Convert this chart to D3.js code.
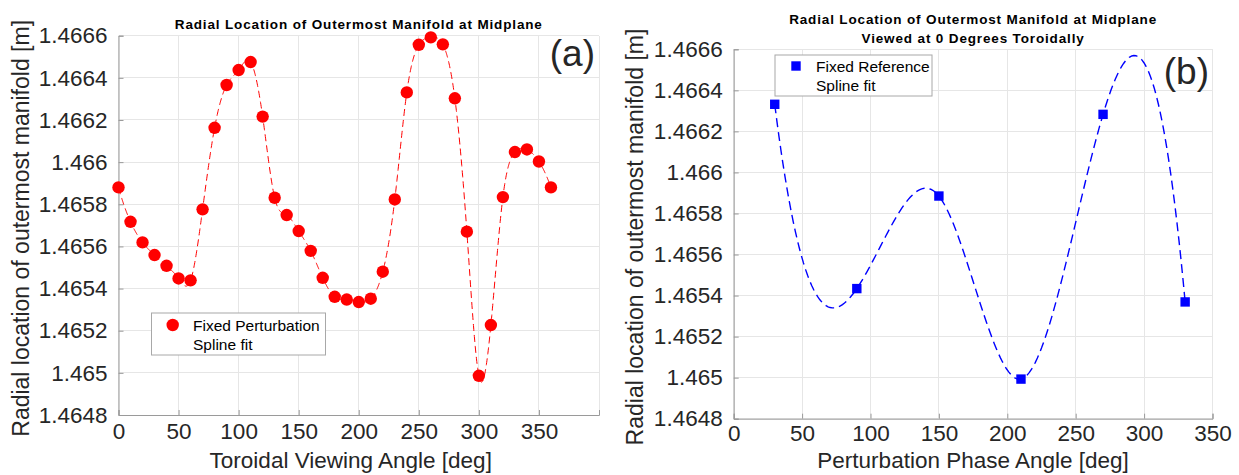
<!DOCTYPE html>
<html>
<head>
<meta charset="utf-8">
<script src="https://cdn.jsdelivr.net/npm/d3@7"></script>
<style>
  html, body { margin: 0; padding: 0; background: #fff; }
  svg { display: block; font-family: "Liberation Sans", Arial, Helvetica, sans-serif; }
</style>
</head>
<body>
<svg id="chart" width="1239" height="475"></svg>
<script>
// ---------- DATA ----------
const angleA = [0,10,20,30,40,50,60,70,80,90,100,110,120,130,140,150,160,170,180,190,200,210,220,230,240,250,260,270,280,290,300,310,320,330,340,350,360];
const radiusA = [1.46588,1.465717,1.465619,1.465559,1.465508,1.465448,1.465439,1.465776,1.466163,1.466366,1.466437,1.466475,1.466216,1.465831,1.465749,1.465673,1.465579,1.465451,1.465361,1.465348,1.465336,1.465352,1.46548,1.465823,1.466331,1.466557,1.466592,1.466559,1.466303,1.46567,1.464986,1.465227,1.465834,1.466048,1.46606,1.466003,1.46588];

const phaseB = [30, 90, 150, 210, 270, 330];
const radiusB = [1.466332, 1.465434, 1.465885, 1.464993, 1.466283, 1.465369];

const yTicks = [1.4648,1.465,1.4652,1.4654,1.4656,1.4658,1.466,1.4662,1.4664,1.4666];
const xTicksA = [0,50,100,150,200,250,300,350,400];
const xTickLabelsA = ["0","50","100","150","200","250","300","350",""];
const xTicksB = [0,50,100,150,200,250,300,350];

const titleA = ["Radial Location of Outermost Manifold at Midplane"];
const titleB = ["Radial Location of Outermost Manifold at Midplane", "Viewed at 0 Degrees Toroidally"];
const xLabelA = "Toroidal Viewing Angle [deg]";
const xLabelB = "Perturbation Phase Angle [deg]";
const yLabel = "Radial location of outermost manifold [m]";
const legendA = ["Fixed Perturbation", "Spline fit"];
const legendB = ["Fixed Reference", "Spline fit"];

// ---------- not-a-knot cubic spline (as MATLAB spline) ----------
function spline(xs, ys) {
  const n = xs.length;
  const y0 = ys[0];
  const yy = ys.map(v => v - y0);
  const h = [];
  for (let i = 0; i < n - 1; i++) h.push(xs[i + 1] - xs[i]);
  const A = Array.from({length: n}, () => new Array(n).fill(0));
  const b = new Array(n).fill(0);
  A[0][0] = -h[1]; A[0][1] = h[0] + h[1]; A[0][2] = -h[0];
  for (let i = 1; i < n - 1; i++) {
    A[i][i - 1] = h[i - 1];
    A[i][i] = 2 * (h[i - 1] + h[i]);
    A[i][i + 1] = h[i];
    b[i] = 6 * ((yy[i + 1] - yy[i]) / h[i] - (yy[i] - yy[i - 1]) / h[i - 1]);
  }
  A[n - 1][n - 3] = -h[n - 2]; A[n - 1][n - 2] = h[n - 3] + h[n - 2]; A[n - 1][n - 1] = -h[n - 3];
  for (let c = 0; c < n; c++) {
    let p = c;
    for (let r = c + 1; r < n; r++) if (Math.abs(A[r][c]) > Math.abs(A[p][c])) p = r;
    [A[c], A[p]] = [A[p], A[c]]; [b[c], b[p]] = [b[p], b[c]];
    for (let r = c + 1; r < n; r++) {
      const f = A[r][c] / A[c][c];
      if (f === 0) continue;
      for (let k = c; k < n; k++) A[r][k] -= f * A[c][k];
      b[r] -= f * b[c];
    }
  }
  const M = new Array(n).fill(0);
  for (let r = n - 1; r >= 0; r--) {
    let s = b[r];
    for (let k = r + 1; k < n; k++) s -= A[r][k] * M[k];
    M[r] = s / A[r][r];
  }
  const pts = [];
  for (let i = 0; i < n - 1; i++) {
    const steps = 40;
    for (let s = 0; s < steps; s++) {
      const x = xs[i] + h[i] * s / steps;
      const a = xs[i + 1] - x, bb = x - xs[i], hi = h[i];
      const v = M[i] * a * a * a / (6 * hi) + M[i + 1] * bb * bb * bb / (6 * hi)
        + (yy[i] / hi - M[i] * hi / 6) * a + (yy[i + 1] / hi - M[i + 1] * hi / 6) * bb;
      pts.push([x, v + y0]);
    }
  }
  pts.push([xs[n - 1], ys[n - 1]]);
  return pts;
}

const svg = d3.select("#chart");
svg.append("rect").attr("width", 1239).attr("height", 475).attr("fill", "#fff");

const TXT = "#262626", AX = "#9a9a9a", GRID = "#e6e6e6";

function panel(cfg) {
  const g = svg.append("g");
  const x = d3.scaleLinear().domain(cfg.xDomain).range(cfg.xRange);
  const y = d3.scaleLinear().domain([1.4648, 1.4666]).range(cfg.yRange);
  const [x0, x1] = cfg.xRange, [yb, yt] = cfg.yRange;

  // grid
  g.append("g").selectAll("line").data(cfg.xTicks).join("line")
    .attr("x1", d => x(d)).attr("x2", d => x(d)).attr("y1", yb).attr("y2", yt)
    .attr("stroke", GRID).attr("stroke-width", 1).attr("shape-rendering", "crispEdges");
  g.append("g").selectAll("line").data(yTicks).join("line")
    .attr("x1", x0).attr("x2", x1).attr("y1", d => y(d)).attr("y2", d => y(d))
    .attr("stroke", GRID).attr("stroke-width", 1).attr("shape-rendering", "crispEdges");

  // axes (MATLAB style: inward ticks)
  const fmt = v => String(+v.toFixed(4));
  const xAxis = d3.axisBottom(x).tickValues(cfg.xTicks).tickSize(-5).tickPadding(cfg.xPad)
    .tickFormat((d, i) => cfg.xLabels[i]);
  const gx = g.append("g").attr("transform", `translate(0,${yb})`).call(xAxis);
  const yAxis = d3.axisLeft(y).tickValues(yTicks).tickSize(-5).tickPadding(11).tickFormat(fmt);
  const gy = g.append("g").attr("transform", `translate(${x0},0)`).call(yAxis);
  [gx, gy].forEach(a => {
    a.select(".domain").attr("stroke", AX);
    a.selectAll(".tick line").attr("stroke", AX);
    a.selectAll(".tick text").attr("fill", TXT).style("font-size", "22.5px")
      .style("font-family", '"Liberation Sans", Arial, sans-serif');
  });

  // axis labels
  g.append("text").attr("x", (x0 + x1) / 2 + cfg.xLabelDx).attr("y", 468)
    .attr("text-anchor", "middle").attr("fill", TXT).style("font-size", "22.5px").text(cfg.xLabel);
  g.append("text").attr("transform", `translate(${cfg.yLabelX},${(yb + yt) / 2 + 3}) rotate(-90)`)
    .attr("text-anchor", "middle").attr("fill", TXT).style("font-size", "23px").text(yLabel);

  // title
  g.append("g").selectAll("text").data(cfg.title).join("text")
    .attr("x", (x0 + x1) / 2).attr("y", (d, i) => cfg.titleY + i * 19)
    .attr("text-anchor", "middle").attr("fill", "#000")
    .style("font-size", "13.5px").style("font-weight", "bold").style("letter-spacing", "0.85px")
    .text(d => d);

  // spline
  const pts = spline(cfg.xs, cfg.ys);
  g.append("path").datum(pts)
    .attr("d", d3.line().x(d => x(d[0])).y(d => y(d[1])))
    .attr("fill", "none").attr("stroke", cfg.color).attr("stroke-width", cfg.lineWidth)
    .attr("stroke-dasharray", cfg.dash);

  // markers
  const pairs = cfg.xs.map((v, i) => [v, cfg.ys[i]]);
  if (cfg.marker === "circle") {
    g.append("g").selectAll("circle").data(pairs).join("circle")
      .attr("cx", d => x(d[0])).attr("cy", d => y(d[1])).attr("r", 6.2).attr("fill", cfg.color);
  } else {
    g.append("g").selectAll("rect").data(pairs).join("rect")
      .attr("x", d => x(d[0]) - 4.7).attr("y", d => y(d[1]) - 4.7)
      .attr("width", 9.4).attr("height", 9.4).attr("fill", cfg.color);
  }

  // panel letter
  g.append("text").attr("x", cfg.letterX).attr("y", cfg.letterY).attr("text-anchor", "end")
    .attr("fill", TXT).style("font-size", "37px").text(cfg.letter);

  // legend
  const L = cfg.legend;
  g.append("rect").attr("x", L.x).attr("y", L.y).attr("width", L.w).attr("height", L.h)
    .attr("fill", "#fff").attr("stroke", "#a8a8a8").attr("stroke-width", 1);
  if (cfg.marker === "circle") {
    g.append("circle").attr("cx", L.mx).attr("cy", L.my).attr("r", 6.2).attr("fill", cfg.color);
  } else {
    g.append("rect").attr("x", L.mx - 4.7).attr("y", L.my - 4.7).attr("width", 9.4).attr("height", 9.4).attr("fill", cfg.color);
  }
  g.append("g").selectAll("text").data(cfg.legendText).join("text")
    .attr("x", L.tx).attr("y", (d, i) => L.ty + i * 19)
    .attr("fill", "#000").style("font-size", "15.5px").text(d => d);
}

panel({
  xDomain: [0, 400], xRange: [118.5, 599], yRange: [415, 35.7],
  xTicks: xTicksA, xLabels: xTickLabelsA, xs: angleA, ys: radiusA, xPad: 8,
  color: "#ff0000", lineWidth: 1, dash: "7,4", marker: "circle",
  title: titleA, titleY: 29, xLabel: xLabelA, xLabelDx: -8, yLabelX: 29,
  letter: "(a)", letterX: 595, letterY: 66,
  legend: {x: 151.5, y: 313, w: 174, h: 42, mx: 172.7, my: 325, tx: 193, ty: 330.5},
  legendText: legendA
});

panel({
  xDomain: [0, 350], xRange: [733.7, 1212.5], yRange: [418.7, 49.3],
  xTicks: xTicksB, xLabels: xTicksB.map(String), xs: phaseB, ys: radiusB, xPad: 6,
  color: "#0000ff", lineWidth: 1.4, dash: "9,5", marker: "square",
  title: titleB, titleY: 24, xLabel: xLabelB, xLabelDx: 0, yLabelX: 643,
  letter: "(b)", letterX: 1209, letterY: 84,
  legend: {x: 775, y: 55, w: 157, h: 41, mx: 796, my: 66, tx: 816, ty: 72},
  legendText: legendB
});
</script>
</body>
</html>
